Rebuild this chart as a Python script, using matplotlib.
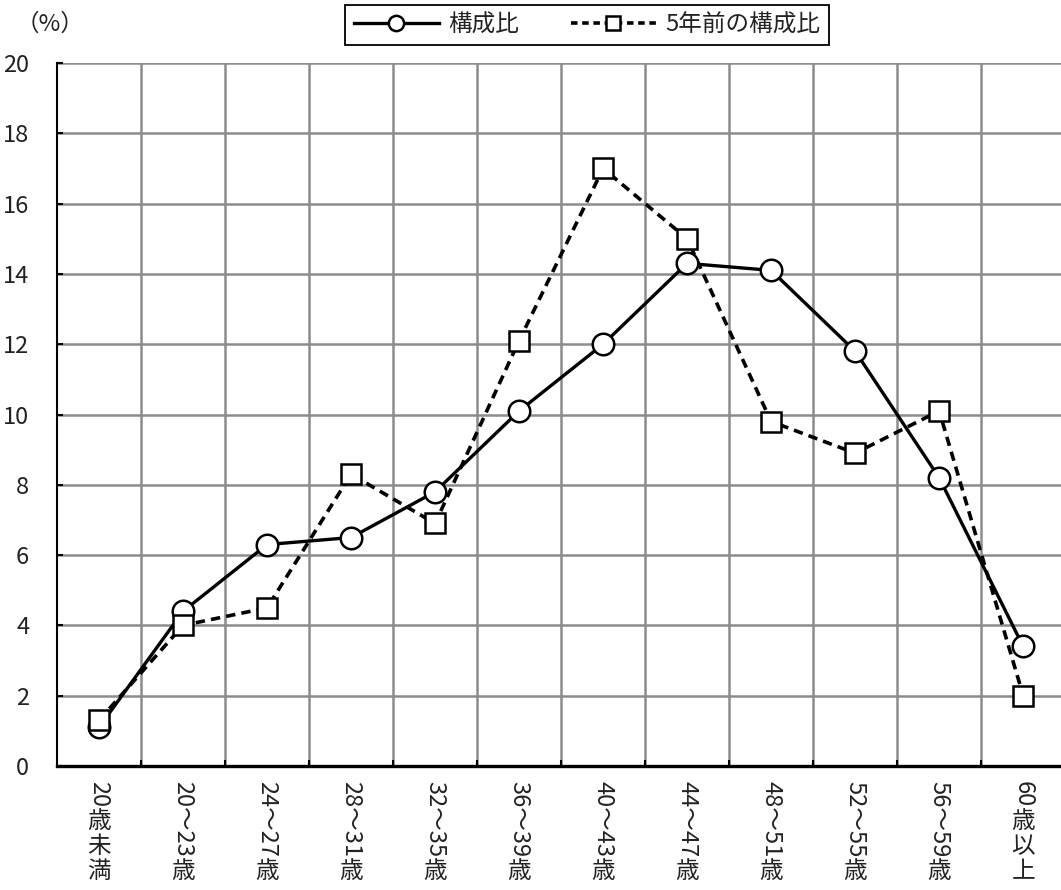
import matplotlib

matplotlib.use("Agg")
import numpy as np
from matplotlib import pyplot as plt
from matplotlib.lines import Line2D

plt.rcParams["font.family"] = ["Noto Sans CJK JP", "DejaVu Sans"]

# age groups: (rotated part, upright part) for vertical labels
age_groups = [
    ("20", "歳未満"),
    ("20～23", "歳"),
    ("24～27", "歳"),
    ("28～31", "歳"),
    ("32～35", "歳"),
    ("36～39", "歳"),
    ("40～43", "歳"),
    ("44～47", "歳"),
    ("48～51", "歳"),
    ("52～55", "歳"),
    ("56～59", "歳"),
    ("60", "歳以上"),
]
share_now = [1.1, 4.4, 6.3, 6.5, 7.8, 10.1, 12.0, 14.3, 14.1, 11.8, 8.2, 3.4]
share_5y_ago = [1.3, 4.0, 4.5, 8.3, 6.9, 12.1, 17.0, 15.0, 9.8, 8.9, 10.1, 2.0]
y_ticks = list(range(0, 21, 2))
legend_labels = ["構成比", "5年前の構成比"]

W, H = 1061, 890
fig = plt.figure(figsize=(W / 100, H / 100), dpi=100)
ax = fig.add_axes([57 / W, 1 - 766 / H, (W - 57) / W, (766 - 63) / H])

x = np.arange(len(age_groups))
FS = 17
DASH = (0, (2.6, 1.7))

# lines first, then markers on top
ax.plot(x, share_now, color="black", lw=2.4, zorder=3)
ax.plot(x, share_5y_ago, color="black", lw=2.6, ls=DASH, zorder=3)
ax.plot(x, share_now, ls="none", marker="o", ms=15.5, mfc="white",
        mec="black", mew=1.8, zorder=4)
ax.plot(x, share_5y_ago, ls="none", marker="s", ms=14, mfc="white",
        mec="black", mew=1.8, zorder=5)

ax.set_xlim(-0.5, 11.45)
ax.set_ylim(0, 20)
ax.set_yticks(y_ticks)
ax.set_yticklabels([str(v) for v in y_ticks], fontsize=FS, color="#222222")
ax.set_xticks(x)
ax.set_xticklabels([])
ax.set_xticks(x[:-1] + 0.5, minor=True)
ax.tick_params(axis="x", which="major", length=0)
ax.tick_params(axis="x", which="minor", direction="in", length=4, width=1.5)
ax.tick_params(axis="y", direction="in", length=4, width=1.5, pad=20)

ax.grid(True, axis="y", color="#8c8c8c", lw=1.8, zorder=1)
ax.grid(True, axis="x", which="minor", color="#8c8c8c", lw=1.8, zorder=1)
ax.set_axisbelow(True)
for side in ("top", "right"):
    ax.spines[side].set_visible(False)
ax.spines["left"].set_linewidth(1.5)
ax.spines["bottom"].set_linewidth(2.4)

# vertical (tategaki) category labels below the axis
fig.canvas.draw()
renderer = fig.canvas.get_renderer()
pitch = 25
for i, (rot_part, up_part) in enumerate(age_groups):
    cursor = 15
    t = ax.annotate(rot_part, xy=(i, 0), xycoords=("data", "axes fraction"),
                    xytext=(0, -cursor), textcoords="offset pixels",
                    rotation=-90, ha="center", va="top", fontsize=FS,
                    color="#222222", annotation_clip=False)
    cursor += t.get_window_extent(renderer).height + 2
    for ch in up_part:
        ax.annotate(ch, xy=(i, 0), xycoords=("data", "axes fraction"),
                    xytext=(0, -(cursor + pitch / 2)), textcoords="offset pixels",
                    ha="center", va="center", fontsize=FS, color="#222222",
                    annotation_clip=False)
        cursor += pitch

fig.text(16 / W, 1 - 24 / H, "（%）", fontsize=FS, va="center",
         ha="left", color="#222222")

handles = [
    Line2D([], [], color="black", lw=2.4, marker="o", ms=11, mfc="white",
           mec="black", mew=1.8),
    Line2D([], [], color="black", lw=2.6, ls=(0, (1.8, 1.3)), marker="s",
           ms=10, mfc="white", mec="black", mew=1.8),
]
leg = fig.legend(handles, legend_labels, loc="upper center",
                 bbox_to_anchor=(587 / W, 1 - 5 / H), ncol=2, fontsize=FS,
                 handlelength=3.6, handletextpad=0.4, columnspacing=2.2,
                 borderpad=0.35, borderaxespad=0, fancybox=False, framealpha=1,
                 edgecolor="black")
leg.get_frame().set_linewidth(1.3)
for txt in leg.get_texts():
    txt.set_color("#222222")

fig.savefig("out.png", dpi=100)
